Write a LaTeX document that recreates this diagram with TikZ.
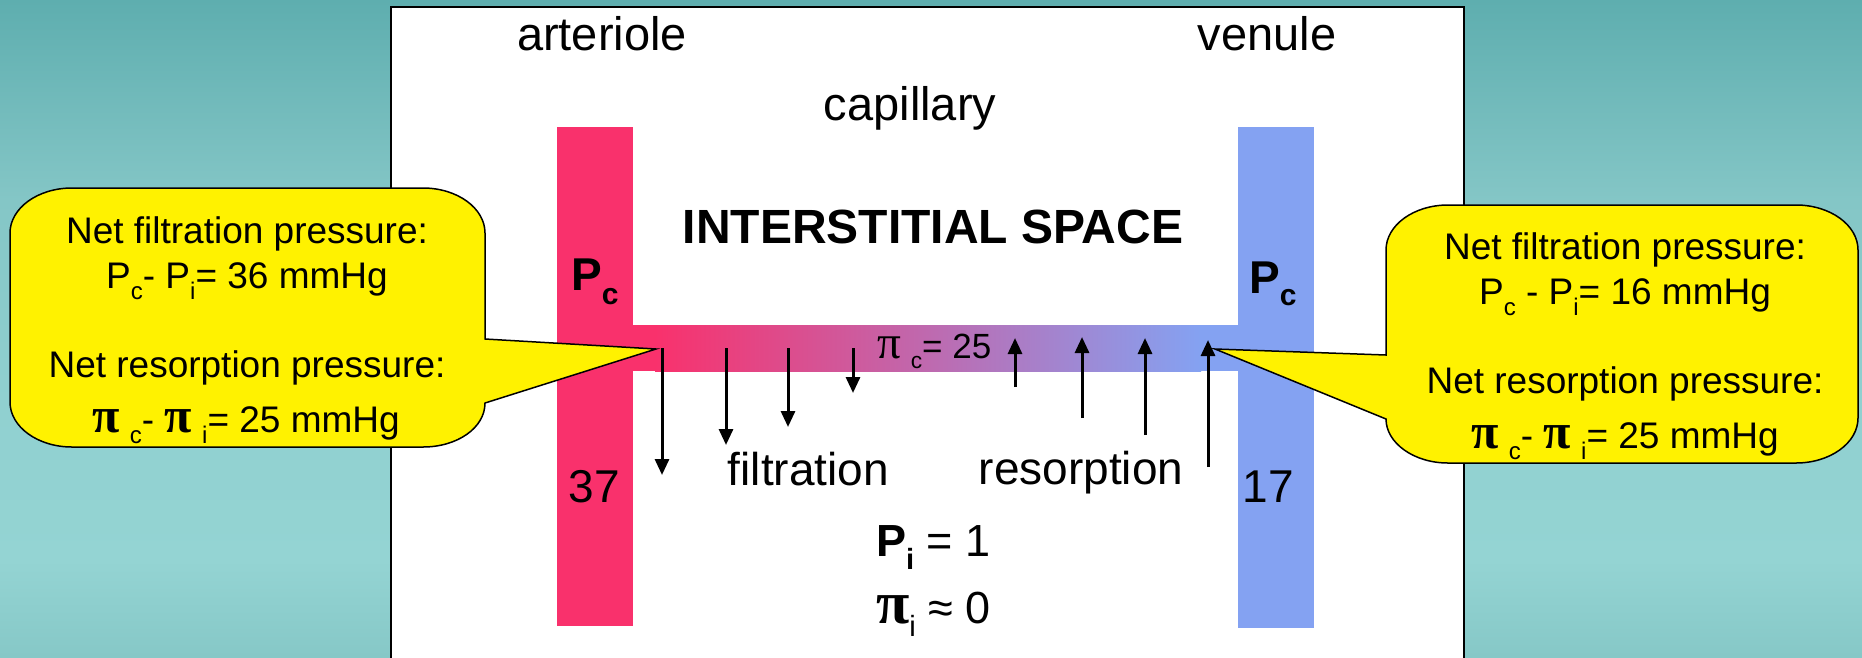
\documentclass[tikz,border=0pt]{standalone}
\usepackage{fontspec}
\setmainfont{Liberation Sans}
\newfontfamily\piface[Scale=1.35]{Liberation Serif}
\usepackage{graphicx}
\usetikzlibrary{arrows.meta}
\definecolor{artpink}{HTML}{F9316C}
\definecolor{venblue}{HTML}{84A2F2}
\definecolor{bgA}{HTML}{5EAEAF}
\definecolor{bgB}{HTML}{84C6C6}
\definecolor{bgC}{HTML}{90D0D0}
\definecolor{bgD}{HTML}{94D4D3}
\definecolor{bgE}{HTML}{86C8C7}
\newcommand{\sbs}[1]{\raisebox{-0.3em}{\scalebox{0.65}{#1}}}
\newcommand{\fsz}[1]{\fontsize{#1}{#1}\selectfont}
\pgfdeclareverticalshading{bgshade}{100bp}{color(0bp)=(bgE); color(25bp)=(bgE); color(32.4bp)=(bgD); color(44.6bp)=(bgC); color(59.8bp)=(bgB); color(75bp)=(bgA); color(100bp)=(bgA)}
\tikzset{
  lbl/.style={inner sep=0pt, font=\fsz{46}},
  calltext/.style={inner sep=0pt, font=\fsz{37}},
  flow/.style={line width=3pt, -{Triangle[width=14pt,length=16pt]}},
  callout/.style={fill=yellow, draw=black, line width=1.5pt, line join=miter},
  vessel/.style={draw=none}
}
\begin{document}
\begin{tikzpicture}[x=1pt,y=-1pt]
\useasboundingbox (0,0) rectangle (1862,657);
% background
\shade[shading=bgshade] (0,0) rectangle (1862,657);
% white panel
\draw[fill=white, draw=black, line width=2pt] (391,7) rectangle (1464,667);
% vessels
\fill[artpink] (557,127) rectangle (633,626);
\fill[venblue] (1238,127) rectangle (1314,628);
\fill[artpink] (630,325) rectangle (656,371);
\shade[left color=artpink, right color=venblue] (655,325) rectangle (1201,371);
\fill[venblue] (1200,325) rectangle (1239,371);
% filtration arrows
\coordinate (d1s) at (662,348); \coordinate (d1e) at (662,475);
\coordinate (d2s) at (726,348); \coordinate (d2e) at (726,445);
\coordinate (d3s) at (788,348); \coordinate (d3e) at (788,427);
\coordinate (d4s) at (853,348); \coordinate (d4e) at (853,393);
\draw[flow] (d1s) -- (d1e);
\draw[flow] (d2s) -- (d2e);
\draw[flow] (d3s) -- (d3e);
\draw[flow] (d4s) -- (d4e);
% resorption arrows
\coordinate (u1s) at (1015,387); \coordinate (u1e) at (1015,338);
\coordinate (u2s) at (1082,418); \coordinate (u2e) at (1082,337);
\coordinate (u3s) at (1145,435); \coordinate (u3e) at (1145,338);
\coordinate (u4s) at (1208,467); \coordinate (u4e) at (1208,340);
\draw[flow] (u1s) -- (u1e);
\draw[flow] (u2s) -- (u2e);
\draw[flow] (u3s) -- (u3e);
\draw[flow] (u4s) -- (u4e);
% labels
\node[lbl, font=\fsz{47}, anchor=base] (arteriole) at (602,50) {arteriole};
\node[lbl, font=\fsz{47}, anchor=base] (venule) at (1267,50) {venule};
\node[lbl, font=\fsz{47}, anchor=base] (capillary) at (910,120) {capillary};
\node[lbl, font=\fsz{48}\bfseries, anchor=base] (space) at (933,243) {INTERSTITIAL SPACE};
\node[lbl, font=\fsz{46}\bfseries, anchor=base west] (pcl) at (571,290) {P\raisebox{-14pt}{\fsz{30}c}};
\node[lbl, font=\fsz{46}\bfseries, anchor=base west] (pcr) at (1249,293) {P\raisebox{-12pt}{\fsz{30}c}};
\node[lbl, anchor=base] (v37) at (594.5,502) {37};
\node[lbl, anchor=base] (v17) at (1268.5,502) {17};
\node[lbl, anchor=base] (filt) at (808.5,485) {filtration};
\node[lbl, anchor=base] (reso) at (1081,484) {resorption};
\node[lbl, font=\fsz{35}, anchor=base west] (pic) at (877,358) {{\piface π} \sbs{c}= 25};
\node[lbl, font=\fsz{45}, anchor=base west] (pii) at (876,556) {\textbf{P}\sbs{\textbf{i}} = 1};
\node[lbl, font=\fsz{45}, anchor=base west] (pia) at (876,623) {{\piface\bfseries π}\sbs{i} ≈ 0};
% left callout
\draw[callout] (72,188) -- (423,188) .. controls (457.2,188) and (485,208.1) .. (485,233)
  -- (485,339) -- (656,349) -- (485,403)
  .. controls (485,427.9) and (457.2,447) .. (423,447) -- (72,447)
  .. controls (37.8,447) and (10,426.9) .. (10,402) -- (10,233)
  .. controls (10,208.1) and (37.8,188) .. (72,188) -- cycle;
% right callout
\draw[callout] (1448,205) -- (1796,205) .. controls (1830.2,205) and (1858,225.1) .. (1858,250)
  -- (1858,418) .. controls (1858,442.9) and (1830.2,463) .. (1796,463) -- (1448,463)
  .. controls (1413.8,463) and (1386,442.9) .. (1386,419)
  -- (1215,349) -- (1386,355) -- (1386,250)
  .. controls (1386,225.1) and (1413.8,205) .. (1448,205) -- cycle;
% callout texts
\node[calltext, anchor=base] (lf1) at (247,243) {Net filtration pressure:};
\node[calltext, anchor=base] (lf2) at (247,288) {P\sbs{c}- P\sbs{i}= 36 mmHg};
\node[calltext, anchor=base] (lr1) at (247,377) {Net resorption pressure:};
\node[calltext, anchor=base] (lr2) at (246,432) {{\piface\bfseries π} \sbs{c}- {\piface\bfseries π} \sbs{i}= 25 mmHg};
\node[calltext, anchor=base] (rf1) at (1625,259) {Net filtration pressure:};
\node[calltext, anchor=base] (rf2) at (1625,304) {P\sbs{c} - P\sbs{i}= 16 mmHg};
\node[calltext, anchor=base] (rr1) at (1625,393) {Net resorption pressure:};
\node[calltext, anchor=base] (rr2) at (1625,448) {{\piface\bfseries π} \sbs{c}- {\piface\bfseries π} \sbs{i}= 25 mmHg};
\end{tikzpicture}
\end{document}
